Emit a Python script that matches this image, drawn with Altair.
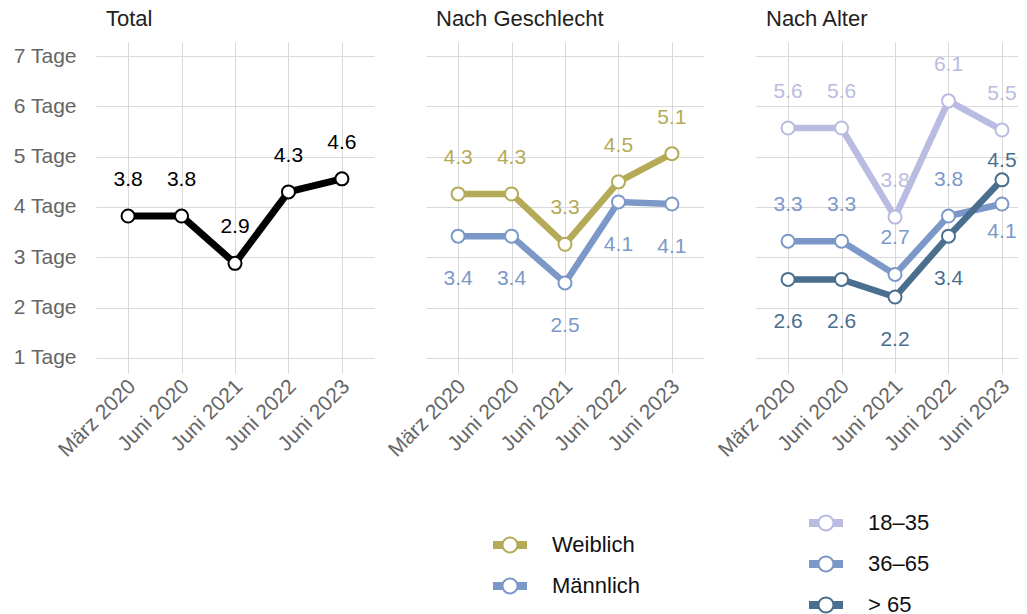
import altair as alt
import pandas as pd

FONT = "Liberation Sans"

categories = ["März 2020", "Juni 2020", "Juni 2021", "Juni 2022", "Juni 2023"]

total = [3.82, 3.82, 2.88, 4.30, 4.56]

sex_series = ["Weiblich", "Männlich"]
weiblich = [4.26, 4.26, 3.26, 4.50, 5.06]
maennlich = [3.42, 3.42, 2.49, 4.10, 4.06]

age_series = ["18–35", "36–65", "> 65"]
age_18_35 = [5.57, 5.57, 3.80, 6.11, 5.53]
age_36_65 = [3.32, 3.32, 2.66, 3.82, 4.06]
age_65 = [2.56, 2.56, 2.21, 3.42, 4.54]

# which side of the point the value label sits on
total_side = ["above", "above", "above", "above", "above"]
weiblich_side = ["above", "above", "above", "above", "above"]
maennlich_side = ["below", "below", "below", "below", "below"]
age_18_35_side = ["above", "above", "above", "above", "above"]
age_36_65_side = ["above", "above", "above", "above", "below_near"]
age_65_side = ["below", "below", "below", "below", "above_near"]

sex_colors = ["#b5aa58", "#7b98c9"]
age_colors = ["#b9bce0", "#7b98c9", "#4a6f8e"]

SIDE_DY = {"above": -36, "below": 43, "above_near": -19, "below_near": 28}

LABEL_EXPR = "[" + ",".join("'" + c + "'" for c in categories) + "][datum.value]"

# legend symbol: thick line with hollow ring in the middle
LEGEND_SYMBOL = (
    "M-1,-0.235H-0.4V0.235H-1Z"
    "M0.4,-0.235H1V0.235H0.4Z"
    "M0.5,0A0.5,0.5 0 1,1 -0.5,0A0.5,0.5 0 1,1 0.5,0Z"
    "M0.38,0A0.38,0.38 0 1,0 -0.38,0A0.38,0.38 0 1,0 0.38,0Z"
)


def make_df(series_names, values_list, sides_list):
    rows = []
    for name, vals, sides in zip(series_names, values_list, sides_list):
        for i, (c, v, s) in enumerate(zip(categories, vals, sides)):
            rows.append({"idx": i, "cat": c, "value": v, "series": name,
                         "label": f"{v:.1f}", "side": s})
    return pd.DataFrame(rows)


def panel(df, title, x_domain, width, show_y, series=None, colors=None,
          legend_xy=None):
    x = alt.X(
        "idx:Q",
        scale=alt.Scale(domain=x_domain, nice=False, zero=False),
        axis=alt.Axis(values=[0, 1, 2, 3, 4], labelExpr=LABEL_EXPR,
                      labelAngle=-45, labelAlign="right", labelBaseline="middle",
                      labelOverlap=False, labelBound=False, labelFlush=False,
                      ticks=False, domain=False, grid=True, title=None,
                      labelPadding=10, labelOffset=4, labelFontSize=21,
                      labelColor="#666666", labelFont=FONT),
    )
    if show_y:
        yaxis = alt.Axis(values=[1, 2, 3, 4, 5, 6, 7],
                         labelExpr="datum.value + ' Tage'", ticks=False,
                         domain=False, grid=True, title=None, labelPadding=20,
                         labelFontSize=21, labelColor="#666666", labelFont=FONT)
    else:
        yaxis = alt.Axis(values=[1, 2, 3, 4, 5, 6, 7], labels=False,
                         ticks=False, domain=False, grid=True, title=None)
    y = alt.Y("value:Q", scale=alt.Scale(domain=[0.7, 7.28], nice=False,
                                         zero=False), axis=yaxis)

    base = alt.Chart(df)
    layers = []
    for side, dy in SIDE_DY.items():
        t = base.transform_filter(alt.datum.side == side).mark_text(
            fontSize=21, font=FONT, baseline="middle", align="center", dy=dy)
        if series is None:
            t = t.encode(x=x, y=y, text="label:N", fill=alt.value("#000000"))
        else:
            t = t.encode(
                x=x, y=y, text="label:N",
                fill=alt.Fill(
                    "series:N",
                    scale=alt.Scale(domain=series, range=colors),
                    legend=alt.Legend(
                        orient="none", legendX=legend_xy[0],
                        legendY=legend_xy[1], title=None,
                        direction="vertical", symbolType=LEGEND_SYMBOL,
                        symbolSize=1156, symbolStrokeWidth=0,
                        symbolOpacity=1, labelFontSize=22,
                        labelFont=FONT, labelColor="#111111",
                        labelOffset=25, rowPadding=13),
                ),
            )
        layers.append(t)

    if series is None:
        line = base.mark_line(strokeWidth=7, color="#000000").encode(
            x=x, y=y, detail="series:N")
        pts = base.mark_point(shape="circle", filled=True, fill="#ffffff",
                              size=170, strokeWidth=2, opacity=1,
                              stroke="#000000").encode(x=x, y=y)
    else:
        sc = alt.Scale(domain=series, range=colors)
        line = base.mark_line(strokeWidth=6.5).encode(
            x=x, y=y, stroke=alt.Stroke("series:N", scale=sc, legend=None),
            detail="series:N")
        pts = base.mark_point(shape="circle", filled=True, fill="#ffffff",
                              size=170, strokeWidth=2, opacity=1).encode(
            x=x, y=y, stroke=alt.Stroke("series:N", scale=sc, legend=None))
    layers += [line, pts]

    return alt.layer(*layers).properties(
        width=width, height=331,
        title=alt.TitleParams(title, anchor="start", frame="group", dx=10,
                              fontSize=22, fontWeight="normal",
                              color="#222222", font=FONT, offset=11),
    )


df_total = make_df(["Total"], [total], [total_side])
df_sex = make_df(sex_series, [weiblich, maennlich],
                 [weiblich_side, maennlich_side])
df_age = make_df(age_series, [age_18_35, age_36_65, age_65],
                 [age_18_35_side, age_36_65_side, age_65_side])

p1 = panel(df_total, "Total", [-0.6, 4.6], 278, True)
p2 = panel(df_sex, "Nach Geschlecht", [-0.6, 4.6], 278, False,
           sex_series, sex_colors, (67, 486))
p3 = panel(df_age, "Nach Alter", [-0.6, 4.3], 262, False,
           age_series, age_colors, (53, 464))

chart = alt.hconcat(p1, p2, p3, spacing=52, bounds="flush").resolve_scale(
    fill="independent", stroke="independent"
).properties(
    padding={"left": 4, "top": 0, "right": 0, "bottom": 0}
).configure_view(stroke=None).configure_axis(
    gridColor="#d9d9d9", gridWidth=1
)

chart.save("out.html", embed_options={"renderer": "svg", "actions": False})
